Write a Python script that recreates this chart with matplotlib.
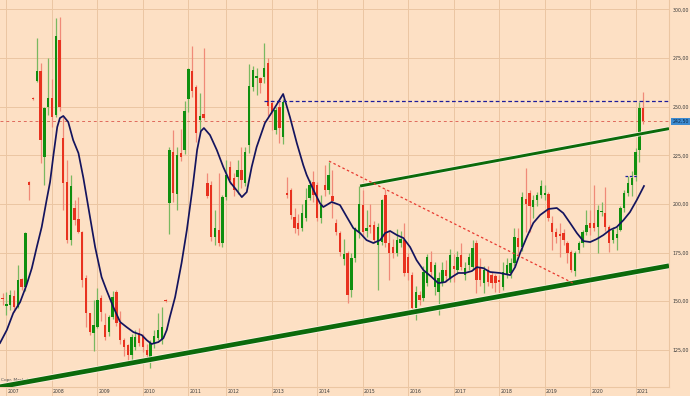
import matplotlib
matplotlib.use("Agg")
import matplotlib.pyplot as plt
import matplotlib.patheffects as pe
import matplotlib.transforms as mtransforms

# monthly candles, oldest first (index 0 = late 2006)
opens = [151.8, 147.5, 148.0, 152.6, 147.0, 161.4, 157.3, 211.2, 254.6, 263.1,
         268.3, 224.1, 249.7, 254.4, 245.6, 284.2, 233.8, 211.2, 181.4, 197.9,
         192.2, 185.5, 161.9, 143.9, 133.6, 136.7, 151.6, 137.7, 134.1, 141.9,
         154.7, 138.8, 130.0, 127.4, 122.3, 126.4, 133.6, 131.6, 124.9, 121.3,
         127.9, 131.1, 130.0, 150.8, 200.4, 226.7, 205.1, 226.1, 227.7, 253.9,
         268.3, 260.0, 243.1, 246.2, 210.7, 209.7, 183.0, 186.6, 179.9, 203.5,
         218.9, 213.3, 213.8, 217.4, 210.7, 230.2, 260.0, 264.7, 264.7, 265.2,
         272.4, 251.8, 238.0, 249.7, 234.3, 205.6, 207.1, 193.2, 190.2, 187.6,
         192.7, 203.0, 211.2, 209.7, 192.7, 209.7, 207.1, 204.1, 190.2, 185.0,
         171.6, 174.7, 155.7, 172.2, 185.5, 199.4, 186.1, 189.1, 189.1, 178.8,
         180.4, 204.6, 179.9, 177.8, 174.7, 179.9, 181.4, 172.7, 163.5, 146.5,
         153.2, 151.6, 159.3, 170.1, 157.3, 154.7, 159.9, 166.0, 161.9, 168.0,
         166.0, 173.7, 163.5, 168.6, 167.5, 179.9, 167.0, 159.3, 166.0, 163.5,
         162.9, 160.9, 157.3, 163.5, 164.5, 169.6, 182.5, 177.8, 202.5, 205.6,
         198.4, 202.0, 204.6, 204.6, 205.1, 190.2, 185.5, 184.5, 185.0, 179.9,
         175.3, 165.5, 176.3, 179.9, 185.5, 190.2, 190.2, 188.1, 195.8, 195.3,
         188.1, 181.4, 182.5, 186.6, 197.9, 205.6, 209.7, 214.8, 227.7, 249.4]
highs = [154.2, 154.6, 155.7, 155.7, 168.5, 162.0, 185.5, 212.0, 255.0, 285.2,
         272.4, 250.0, 275.0, 264.2, 295.5, 296.0, 244.6, 222.5, 215.0, 202.0,
         203.5, 186.0, 163.5, 144.0, 150.6, 156.8, 153.0, 143.9, 143.0, 155.0,
         156.0, 145.0, 131.0, 128.0, 133.0, 135.0, 136.0, 133.0, 128.0, 130.0,
         135.0, 144.0, 147.0, 151.0, 229.5, 238.0, 229.3, 238.5, 253.0, 270.0,
         281.0, 261.0, 257.0, 280.0, 215.8, 212.0, 196.8, 215.8, 204.5, 222.5,
         222.0, 216.0, 222.5, 229.3, 229.3, 271.8, 271.0, 269.8, 265.0, 282.7,
         275.0, 253.4, 250.0, 253.4, 253.9, 213.8, 208.0, 197.9, 195.0, 200.0,
         208.0, 212.3, 216.8, 211.2, 204.5, 220.0, 221.5, 217.4, 192.0, 186.0,
         182.0, 176.0, 174.7, 188.0, 209.2, 207.0, 197.0, 200.0, 191.0, 190.0,
         202.5, 207.6, 186.0, 182.0, 187.0, 186.0, 190.0, 175.0, 165.0, 158.0,
         155.0, 168.0, 174.2, 176.0, 170.0, 165.0, 170.0, 171.0, 177.0, 174.0,
         176.0, 180.0, 170.0, 175.0, 181.4, 181.4, 172.0, 168.0, 168.0, 165.0,
         164.0, 163.5, 170.0, 172.0, 172.0, 187.6, 187.6, 206.0, 218.4, 207.1,
         204.6, 206.0, 212.3, 209.7, 206.0, 193.7, 187.6, 190.2, 187.0, 181.0,
         176.3, 176.0, 181.0, 186.5, 196.8, 197.0, 209.7, 199.4, 201.0, 208.7,
         189.0, 188.1, 188.1, 199.0, 207.0, 214.3, 216.8, 228.7, 252.3, 257.5]
lows = [148.0, 143.0, 145.5, 144.4, 146.5, 156.0, 155.0, 202.0, 253.5, 262.6,
        221.0, 209.7, 245.6, 239.5, 244.6, 248.0, 196.8, 180.0, 179.0, 189.0,
        185.0, 157.3, 136.7, 132.6, 124.4, 136.0, 140.0, 130.0, 132.0, 141.0,
        137.0, 128.0, 122.0, 118.0, 120.0, 125.0, 127.0, 124.0, 120.0, 115.6,
        126.0, 130.0, 128.0, 149.7, 184.6, 201.0, 196.8, 222.0, 225.5, 247.4,
        255.0, 232.0, 238.0, 243.0, 203.0, 181.0, 178.9, 178.4, 177.8, 202.0,
        210.0, 204.0, 205.0, 208.0, 209.0, 226.0, 258.0, 256.0, 257.0, 262.0,
        245.0, 238.0, 236.0, 231.3, 231.0, 203.0, 192.0, 185.0, 184.0, 186.0,
        191.0, 202.0, 200.9, 191.0, 190.0, 204.0, 205.0, 192.7, 184.0, 173.0,
        168.5, 149.1, 152.0, 170.0, 182.5, 183.0, 183.0, 185.0, 180.0, 155.7,
        179.0, 178.0, 160.9, 172.0, 173.0, 178.0, 163.0, 161.0, 145.5, 140.3,
        148.0, 150.0, 158.0, 163.0, 153.0, 143.0, 158.0, 160.0, 160.0, 160.0,
        164.0, 166.0, 161.0, 166.0, 166.0, 154.2, 158.0, 154.0, 158.0, 157.0,
        154.7, 154.0, 156.0, 162.0, 162.0, 168.0, 174.0, 176.0, 185.5, 185.5,
        193.0, 199.0, 203.0, 202.0, 191.0, 176.3, 180.0, 172.7, 179.0, 169.6,
        165.0, 162.9, 175.0, 178.0, 184.0, 184.0, 186.0, 174.7, 194.0, 186.0,
        175.3, 180.0, 176.3, 186.0, 196.0, 204.0, 204.0, 212.0, 221.5, 241.0]
closes = [151.1, 148.5, 153.1, 147.0, 160.9, 157.3, 185.0, 209.7, 253.8, 268.3,
          232.8, 249.2, 254.4, 244.6, 286.3, 249.9, 210.7, 181.4, 209.2, 191.7,
          185.5, 160.9, 143.9, 134.1, 137.7, 150.6, 144.5, 131.6, 141.9, 152.1,
          138.8, 130.0, 126.4, 122.3, 131.6, 131.6, 128.5, 126.4, 122.3, 128.5,
          132.1, 135.2, 136.7, 150.0, 227.7, 205.6, 225.1, 224.1, 247.7, 269.3,
          258.0, 236.4, 245.1, 244.1, 204.0, 183.0, 187.6, 179.9, 203.5, 214.8,
          212.3, 207.1, 217.4, 212.3, 226.7, 260.5, 268.8, 265.7, 262.1, 269.8,
          250.3, 247.2, 248.2, 239.0, 252.3, 204.6, 194.3, 187.6, 187.1, 195.3,
          202.0, 209.7, 204.6, 192.7, 199.4, 207.1, 214.8, 201.5, 185.5, 175.3,
          174.2, 153.2, 172.2, 187.6, 200.0, 185.5, 187.6, 188.1, 181.4, 188.1,
          202.0, 179.9, 174.7, 174.7, 181.4, 182.0, 164.5, 164.5, 146.5, 154.7,
          150.6, 165.0, 172.7, 165.0, 168.6, 161.9, 166.0, 162.9, 173.7, 166.5,
          172.7, 167.5, 167.0, 172.7, 177.3, 160.9, 160.9, 166.0, 159.9, 159.3,
          159.3, 159.9, 165.0, 168.6, 169.6, 183.0, 177.8, 203.5, 200.0, 199.0,
          202.0, 204.6, 209.2, 205.6, 192.7, 185.5, 183.0, 183.5, 181.4, 174.7,
          166.0, 174.7, 179.9, 185.5, 189.1, 187.6, 187.6, 196.8, 196.3, 188.1,
          179.9, 186.6, 184.5, 197.9, 205.6, 210.7, 213.3, 226.7, 249.4, 242.5]

years = ['2007', '2008', '2009', '2010', '2011', '2012', '2013', '2014',
         '2015', '2016', '2017', '2018', '2019', '2020', '2021']
year_idx = [1, 13, 25, 37, 49, 59, 71, 83, 95, 107, 119, 131, 143, 155, 167]

# moving average
ma_idx = [-0.7, 1.1, 2.8, 4.6, 6.3, 7.7, 9.0, 10.3, 11.6, 12.5, 13.4, 14.4, 15.1,
          16.0, 17.3, 18.6, 20.0, 21.3, 22.6, 24.4, 26.1, 27.4, 29.2, 31.0, 32.7,
          34.5, 36.7, 38.0, 39.3, 41.1, 42.4, 43.3, 44.1, 45.5, 47.2, 48.6, 50.2,
          51.3, 52.3, 53.1, 54.7, 56.5, 58.2, 60.0, 61.7, 63.1, 64.4, 65.7, 67.0,
          69.2, 71.4, 74.0, 75.8, 77.6, 79.3, 80.2, 82.0, 83.7, 84.6, 86.8, 89.0,
          90.8, 92.5, 94.3, 96.0, 97.8, 99.6, 100.9, 102.2, 104.0, 105.7, 107.5,
          109.2, 111.0, 113.2, 114.9, 116.7, 118.5, 120.2, 122.0, 123.8, 125.1,
          126.8, 128.6, 131.2, 133.9, 135.2, 136.5, 138.3, 140.0, 141.8, 144.0,
          146.2, 147.9, 149.7, 151.5, 153.2, 155.0, 156.7, 158.5, 160.2, 162.0,
          163.8, 165.5, 167.3, 169.2]
ma_val = [128.5, 135.2, 143.9, 149.5, 158.3, 167.0, 177.8, 188.1, 202.0, 211.2,
          225.1, 239.5, 244.1, 245.2, 242.1, 232.8, 226.1, 213.3, 198.4, 177.8,
          162.4, 155.7, 147.0, 139.3, 136.7, 134.1, 132.6, 130.0, 128.0, 129.0,
          131.0, 135.2, 141.8, 152.1, 169.6, 186.6, 209.7, 227.7, 237.4, 239.0,
          235.4, 227.7, 219.0, 211.2, 207.1, 203.5, 206.1, 219.0, 229.2, 241.6,
          248.2, 256.5, 244.6, 231.3, 220.0, 214.9, 207.1, 200.4, 198.4, 201.0,
          199.4, 193.3, 187.6, 185.0, 181.4, 179.9, 181.4, 185.0, 186.1, 184.0,
          182.5, 177.8, 171.1, 166.0, 162.4, 159.3, 159.8, 162.4, 164.5, 164.5,
          165.5, 167.5, 167.0, 165.0, 164.5, 163.4, 167.5, 174.7, 183.0, 190.2,
          194.3, 197.4, 197.9, 195.3, 190.2, 185.0, 180.9, 180.4, 181.9, 184.0,
          186.6, 188.1, 191.7, 195.8, 202.0, 209.2]

# drawn studies: (index, price) end points
support_x, support_y = [-0.7, 175.8], [106.0, 168.2]
channel_x, channel_y = [94.3, 175.8], [209.2, 238.7]
falling_x, falling_y = [86.1, 150.5], [222.0, 159.3]
top_start, top_level = 69.0, 252.9
box_x, box_level = [164.2, 167.4], 214.5
last_price = 242.5
price_ticks = [125, 150, 175, 200, 225, 250, 275, 300]

bg = '#fde0c4'
grid_c = '#ebc6a2'
up_c, down_c = '#0f8f0f', '#e8321f'
up_wick, down_wick = '#79b860', '#f08a78'

fig = plt.figure(figsize=(6.9, 3.96), dpi=100, facecolor=bg)
ax = fig.add_axes([0, 9 / 396, 669 / 690, 387 / 396], facecolor=bg)

n = len(closes)
idx = list(range(n))
wick_cols = [up_wick if c >= o else down_wick for o, c in zip(opens, closes)]
body_cols = [up_c if c >= o else down_c for o, c in zip(opens, closes)]
ax.vlines(idx, lows, highs, colors=wick_cols, linewidth=0.9, zorder=3)
heights = [max(abs(c - o), 0.6) for o, c in zip(opens, closes)]
bottoms = [min(o, c) for o, c in zip(opens, closes)]
ax.bar(idx, heights, bottom=bottoms, width=0.62, color=body_cols,
       linewidth=0, zorder=4)

ax.plot(ma_idx, ma_val, color='#14145e', lw=1.25, zorder=5)

halo = [pe.Stroke(linewidth=4.6, foreground='#fff1e2'), pe.Normal()]
ax.plot(support_x, support_y, color='#0b6a0b', lw=3.4, zorder=6,
        solid_capstyle='butt', path_effects=halo)
halo2 = [pe.Stroke(linewidth=3.2, foreground='#fff1e2'), pe.Normal()]
ax.plot(channel_x, channel_y, color='#0b6a0b', lw=2.1, zorder=6,
        solid_capstyle='butt', path_effects=halo2)
ax.plot(falling_x, falling_y, color='#e83a30', lw=0.9, dashes=(2, 2), zorder=6)
ax.plot([top_start, 175.8], [top_level, top_level], color='#1c1c9c', lw=0.9,
        dashes=(3, 2), zorder=6)
ax.plot(box_x, [box_level, box_level], color='#1c1c9c', lw=0.9,
        dashes=(2, 1.5), zorder=6)
ax.axhline(last_price, color='#e06a5c', lw=0.7, dashes=(3, 3), zorder=2)

ax.set_xlim(-0.7, 175.8)
ax.set_ylim(105.9, 304.8)

ax.set_xticks(year_idx)
ax.set_yticks(price_ticks)
ax.grid(True, color=grid_c, lw=0.7, zorder=0)
ax.set_axisbelow(True)
ax.tick_params(axis='x', length=7, width=0.7, color=grid_c, labelbottom=False)
ax.yaxis.tick_right()
ax.tick_params(axis='y', length=0, pad=2.5, labelsize=3.4, labelcolor='#3a3a3a')
ax.set_yticklabels([('%.2f' % v).replace('.', ',') for v in price_ticks])

trans = mtransforms.blended_transform_factory(ax.transData, ax.transAxes)
for yr, xi in zip(years, year_idx):
    ax.text(xi + 0.3, -0.004, yr, transform=trans, fontsize=3.3,
            color='#3a3a3a', ha='left', va='top')

trans_r = mtransforms.blended_transform_factory(ax.transAxes, ax.transData)
ax.text(1.005, last_price, ('%.2f' % last_price).replace('.', ','),
        transform=trans_r, fontsize=3.4, color='#0c2a4a', ha='left',
        va='center', bbox=dict(facecolor='#3d8bd0', edgecolor='none', pad=0.8))

ax.text(0.002, 0.012, 'Copr. Market Charts', transform=ax.transAxes,
        fontsize=3.2, color='#555555', ha='left', va='bottom', zorder=1)

for side in ['top', 'left']:
    ax.spines[side].set_visible(False)
ax.spines['right'].set_color(grid_c)
ax.spines['bottom'].set_color(grid_c)
ax.spines['right'].set_linewidth(0.8)
ax.spines['bottom'].set_linewidth(0.8)

fig.savefig('out.png', dpi=100, facecolor=bg)
